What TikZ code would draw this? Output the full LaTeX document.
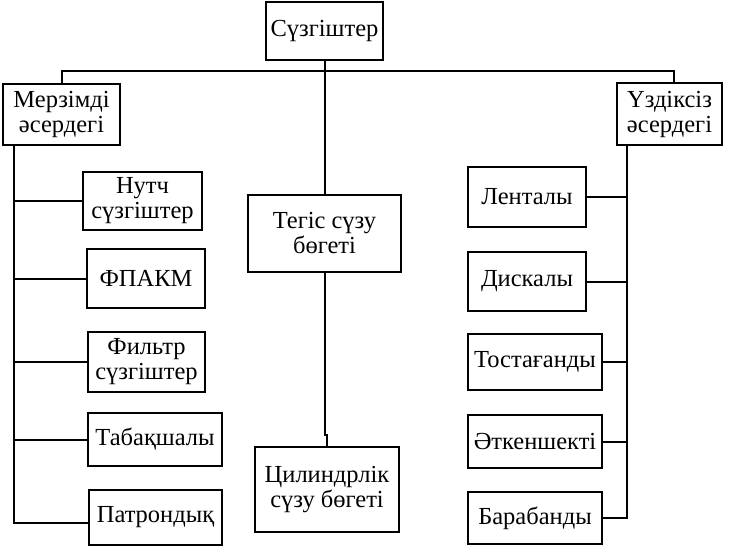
\documentclass[tikz,border=0pt]{standalone}
\usepackage{fontspec}
\setmainfont{Liberation Serif}
\usepackage{tikz}
\usetikzlibrary{calc, positioning}

\tikzset{
    blok/.style={draw, line width=2.6pt, align=center, inner sep=0pt,
        font=\fontsize{24.5}{25}\selectfont},
    zv/.style={line width=2pt}
}

\begin{document}
\begin{tikzpicture}[x=1pt, y=-1pt]
                \useasboundingbox (0,0) rectangle (738,548);
                % 1. Жоғарғы деңгей
                \node[blok, minimum width=117, minimum height=58] (suzg) at (324.5,31) {Сүзгіштер};
                \node[blok, minimum width=117, minimum height=61] (merz) at (61.5,114.5) {Мерзімді\\әсердегі};
                \node[blok, minimum width=105, minimum height=62] (uzdk) at (669.5,114) {Үздіксіз\\әсердегі};
                
                % 2. Сол жақ тармақ
                \node[blok, minimum width=119, minimum height=58] (nutch) at (142.5,201) {Нутч\\сүзгіштер};
                \node[blok, minimum width=118, minimum height=59] (fpakm) at (146,278.5) {ФПАКМ};
                \node[blok, minimum width=117, minimum height=60] (filtr) at (146.5,362) {Фильтр\\сүзгіштер};
                \node[blok, minimum width=134, minimum height=53] (tabak) at (155,439.5) {Табақшалы};
                \node[blok, minimum width=133, minimum height=55] (patr) at (155.5,517.5) {Патрондық};
                
                % 3. Ортаңғы тармақ
                \node[blok, minimum width=153, minimum height=77] (tegis) at (324.5,233.5) {Тегіс сүзу\\бөгеті};
                \node[blok, minimum width=144, minimum height=85] (cilin) at (327,489.5) {Цилиндрлік\\сүзу бөгеті};
                
                % 4. Оң жақ тармақ
                \node[blok, minimum width=118, minimum height=60] (lent) at (527,197) {Ленталы};
                \node[blok, minimum width=118, minimum height=59] (disk) at (527,281.5) {Дискалы};
                \node[blok, minimum width=134, minimum height=56] (tost) at (535,362) {Тостағанды};
                \node[blok, minimum width=134, minimum height=53] (atken) at (535,441.5) {Әткеншекті};
                \node[blok, minimum width=134, minimum height=52] (baraban) at (535,518) {Барабанды};
                
                % 5. Байланыстар
                \coordinate (bar) at (674,71.5);
                \coordinate (lt) at (14,145);
                \coordinate (rt) at (627,145);
                \draw[zv] (merz.north) |- (bar) -- (bar |- uzdk.north);
                \draw[zv] (suzg.south) -- (tegis.north);
                \draw[zv] (tegis.south) -- (tegis.south |- 0,435) -| (cilin.north);
                \draw[zv] (lt) |- ($(patr.west)+(0,5.5)$);
                \foreach \k in {nutch,fpakm,filtr,tabak} {
                    \draw[zv] (lt |- \k.west) -- (\k.west);
                }
                \draw[zv, line width=2.6pt] (rt) |- (baraban.east);
                \foreach \k in {lent,disk,tost,atken} {
                    \draw[zv] (rt |- \k.east) -- (\k.east);
                }
\end{tikzpicture}
\end{document}
